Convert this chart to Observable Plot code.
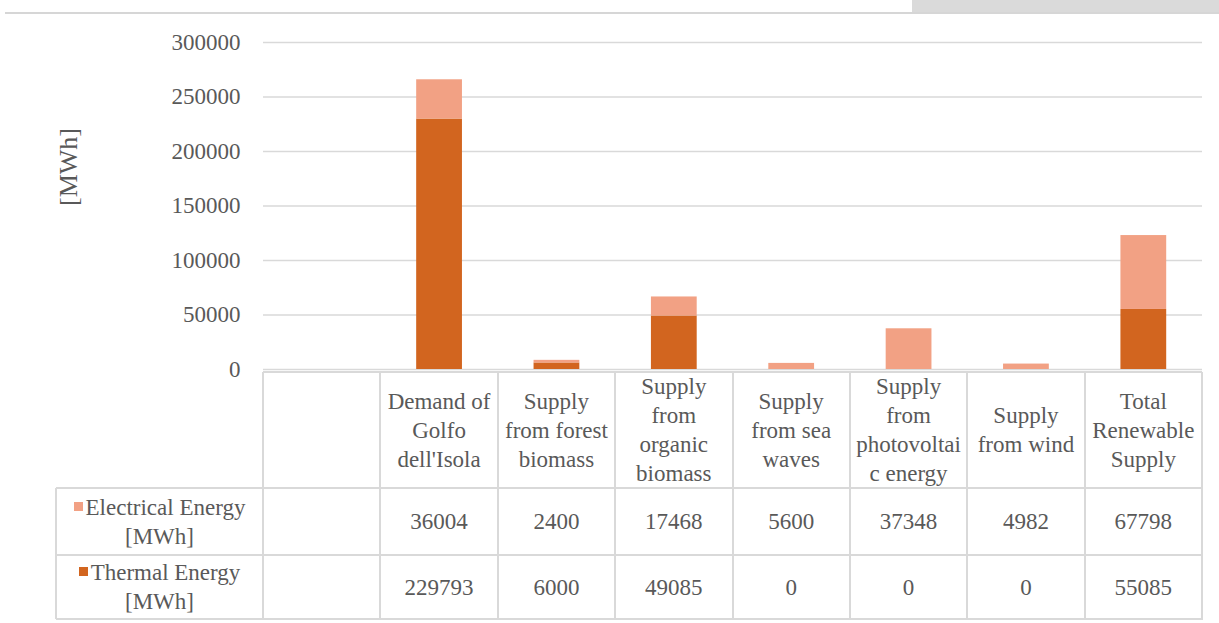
<!DOCTYPE html>
<html><head><meta charset="utf-8">
<script src="https://cdn.jsdelivr.net/npm/d3@7"></script>
<script src="https://cdn.jsdelivr.net/npm/@observablehq/plot@0.6"></script>
<style>
html,body{margin:0;padding:0;background:#fff;}
#wrap{position:relative;width:1219px;height:623px;overflow:hidden;font-family:"Liberation Serif","Times New Roman",serif;color:#595959;background:#fff;}
#chart{position:absolute;left:0;top:0;}
.cell{position:absolute;box-sizing:border-box;display:flex;align-items:center;justify-content:center;text-align:center;white-space:pre-line;font-size:23px;line-height:29px;color:#595959;}
.hl,.vl{position:absolute;background:#d9d9d9;}
.key{display:inline-block;width:9px;height:9px;margin-right:3px;vertical-align:middle;position:relative;top:-3px;}
</style></head><body>
<div id="wrap">
  <div style="position:absolute;left:912px;top:0;width:307px;height:12px;background:#dadada;"></div>
  <div style="position:absolute;left:5px;top:12px;width:1214px;height:2px;background:#d6d6d6;"></div>
  <div id="chart"></div>
  <div id="table"></div>
</div>
<script>
// ---- data ----
const categories = ["", "Demand of Golfo dell'Isola", "Supply from forest biomass", "Supply from organic biomass", "Supply from sea waves", "Supply from photovoltaic energy", "Supply from wind", "Total Renewable Supply"];
const headerLines = ["", "Demand of\nGolfo\ndell'Isola", "Supply\nfrom forest\nbiomass", "Supply\nfrom\norganic\nbiomass", "Supply\nfrom sea\nwaves", "Supply\nfrom\nphotovoltai\nc energy", "Supply\nfrom wind", "Total\nRenewable\nSupply"];
const seriesNames = ["Electrical Energy [MWh]", "Thermal Energy [MWh]"];
const seriesLines = ["Electrical Energy\n[MWh]", "Thermal Energy\n[MWh]"];
const electrical = [null, 36004, 2400, 17468, 5600, 37348, 4982, 67798];
const thermal = [null, 229793, 6000, 49085, 0, 0, 0, 55085];
const yTicks = [0, 50000, 100000, 150000, 200000, 250000, 300000];
const yLabel = "[MWh]";

const seriesColors = ["#f2a184", "#d2651f"];

// stacked rows: thermal at the bottom, electrical on top
const rows = [];
categories.forEach((c, i) => { if (thermal[i] != null) rows.push({category: c, series: seriesNames[1], value: thermal[i]}); });
categories.forEach((c, i) => { if (electrical[i] != null) rows.push({category: c, series: seriesNames[0], value: electrical[i]}); });

const plot = Plot.plot({
  width: 1219, height: 372,
  marginLeft: 263, marginRight: 17, marginTop: 42, marginBottom: 3,
  style: {fontFamily: "'Liberation Serif', 'Times New Roman', serif", fontSize: "23px", color: "#595959", background: "transparent", overflow: "visible"},
  x: {domain: categories, paddingInner: 0.61, paddingOuter: 0.305, round: false, axis: null},
  y: {domain: [0, 300000], axis: null},
  color: {domain: [seriesNames[1], seriesNames[0]], range: [seriesColors[1], seriesColors[0]]},
  marks: [
    Plot.ruleY(yTicks, {stroke: "#d9d9d9", strokeWidth: 1.5}),
    Plot.barY(rows, {x: "category", y: "value", fill: "series"}),
    Plot.axisY({ticks: yTicks, tickSize: 0, tickPadding: 23, tickFormat: d3.format("d"), label: null}),
    Plot.text([yLabel], {text: d => d, frameAnchor: "left", dx: -195, rotate: -90, fontSize: 26, fill: "#595959"})
  ]
});
document.getElementById("chart").appendChild(plot);

// ---- data table aligned with the x scale ----
const xs = plot.scale("x");
const step = xs.step ?? ((xs.range[1] - xs.range[0]) / categories.length);
const bw = xs.bandwidth ?? step * (1 - 0.61);
const left = c => xs.apply(c) + bw / 2 - step / 2;
const x0 = left(categories[0]);
const x1 = left(categories[categories.length - 1]) + step;
const headTop = 372, rowTops = [488, 555], bottom = 619, labelLeft = 56;
const t = document.getElementById("table");
function add(cls, style, html) { const d = document.createElement("div"); d.className = cls; Object.assign(d.style, style); if (html != null) d.innerHTML = html; t.appendChild(d); return d; }
const esc = s => s.replace(/&/g, "&amp;").replace(/</g, "&lt;");

categories.forEach((c, i) => {
  const l = left(c);
  add("cell", {left: l + "px", top: headTop + "px", width: step + "px", height: (rowTops[0] - headTop) + "px"}, esc(headerLines[i]));
  [electrical, thermal].forEach((arr, r) => {
    const top = rowTops[r], h = (r === 0 ? rowTops[1] : bottom) - top;
    add("cell", {left: l + "px", top: top + "px", width: step + "px", height: h + "px"}, arr[i] == null ? "" : String(arr[i]));
  });
});
[0, 1].forEach(r => {
  const top = rowTops[r], h = (r === 0 ? rowTops[1] : bottom) - top;
  add("cell", {left: labelLeft + "px", top: top + "px", width: (x0 - labelLeft) + "px", height: h + "px"},
    '<span><span class="key" style="background:' + seriesColors[r] + '"></span>' + esc(seriesLines[r]) + '</span>');
});
// grid lines of the table
const lw = 2;
add("hl", {left: x0 + "px", top: (headTop - 1) + "px", width: (x1 - x0) + "px", height: lw + "px"});
[rowTops[0], rowTops[1], bottom].forEach(y => add("hl", {left: labelLeft + "px", top: (y - 1) + "px", width: (x1 - labelLeft) + "px", height: lw + "px"}));
add("vl", {left: (labelLeft - 1) + "px", top: rowTops[0] + "px", width: lw + "px", height: (bottom - rowTops[0]) + "px"});
for (let i = 0; i <= categories.length; i++) {
  const x = x0 + i * step;
  add("vl", {left: (x - 1) + "px", top: headTop + "px", width: lw + "px", height: (bottom - headTop + 1) + "px"});
}
</script>
</body></html>
